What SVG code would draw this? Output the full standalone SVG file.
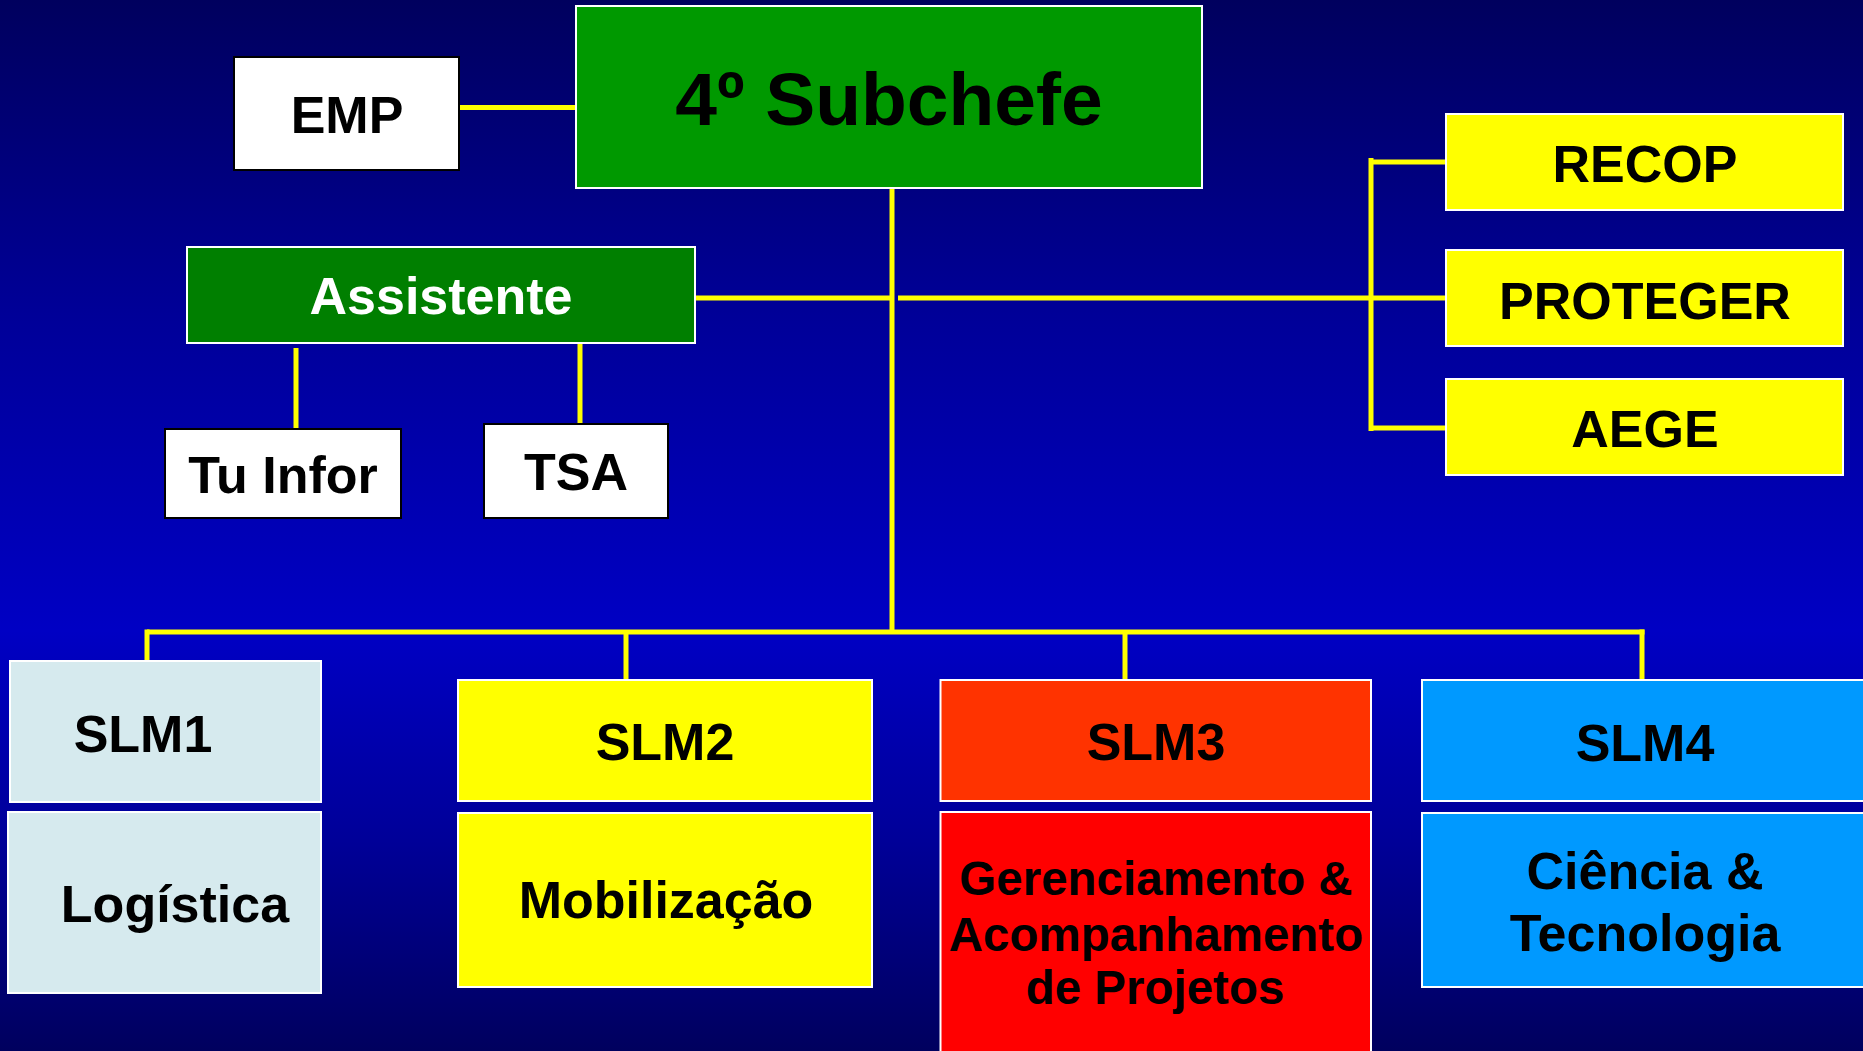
<svg xmlns="http://www.w3.org/2000/svg" width="1863" height="1051" viewBox="0 0 1863 1051">
<defs>
<linearGradient id="bg" x1="0" y1="0" x2="0" y2="1">
<stop offset="0" stop-color="#00005E"/>
<stop offset="0.3" stop-color="#000098"/>
<stop offset="0.6" stop-color="#0000C4"/>
<stop offset="0.8" stop-color="#000098"/>
<stop offset="1" stop-color="#00005E"/>
</linearGradient>
<style>
text{font-family:"Liberation Sans",Arial,sans-serif;font-weight:bold;text-anchor:middle;fill:#000}
.t52{font-size:52px}
.wb{fill:#fff;stroke:#000;stroke-width:2}
.ws{stroke:#fff;stroke-width:2}
.yel{fill:#FFFF00}
.conn line{stroke:#FFFF00;stroke-width:5;stroke-linecap:butt}
</style>
</defs>
<rect x="0" y="0" width="1863" height="1051" fill="url(#bg)"/>
<g id="connectors" class="conn">
<line x1="459" y1="107.5" x2="576" y2="107.5"/>
<line x1="892" y1="188" x2="892" y2="634"/>
<line x1="695" y1="298" x2="890" y2="298"/>
<line x1="898" y1="298" x2="1446" y2="298"/>
<line x1="1371" y1="158" x2="1371" y2="431"/>
<line x1="1371" y1="162" x2="1446" y2="162"/>
<line x1="1371" y1="428" x2="1446" y2="428"/>
<line x1="296" y1="348" x2="296" y2="429"/>
<line x1="580" y1="344" x2="580" y2="424"/>
<line x1="147" y1="632" x2="1644.5" y2="632"/>
<line x1="147" y1="629.5" x2="147" y2="661"/>
<line x1="626" y1="632" x2="626" y2="680"/>
<line x1="1125" y1="632" x2="1125" y2="680"/>
<line x1="1642" y1="629.5" x2="1642" y2="680"/>
</g>
<g id="emp"><rect class="wb" x="234" y="57" width="225" height="113"/><text class="t52" x="347" y="133">EMP</text></g>
<g id="subchefe"><rect class="ws" x="576" y="6" width="626" height="182" fill="#009900"/><text x="889" y="125" font-size="75">4º Subchefe</text></g>
<g id="assistente"><rect class="ws" x="187" y="247" width="508" height="96" fill="#007F00"/><text class="t52" x="441" y="314" style="fill:#fff">Assistente</text></g>
<g id="tuinfor"><rect class="wb" x="165" y="429" width="236" height="89"/><text class="t52" x="283" y="493">Tu Infor</text></g>
<g id="tsa"><rect class="wb" x="484" y="424" width="184" height="94"/><text class="t52" x="576" y="490">TSA</text></g>
<g id="recop"><rect class="ws yel" x="1446" y="114" width="397" height="96"/><text class="t52" x="1645" y="182">RECOP</text></g>
<g id="proteger"><rect class="ws yel" x="1446" y="250" width="397" height="96"/><text class="t52" x="1645" y="319">PROTEGER</text></g>
<g id="aege"><rect class="ws yel" x="1446" y="379" width="397" height="96"/><text class="t52" x="1645" y="447">AEGE</text></g>
<g id="slm1"><rect class="ws" x="10" y="661" width="311" height="141" fill="#D6EAEE"/><text class="t52" x="143" y="752">SLM1</text></g>
<g id="logistica"><rect class="ws" x="8" y="812" width="313" height="181" fill="#D6EAEE"/><text class="t52" x="175" y="922">Logística</text></g>
<g id="slm2"><rect class="ws yel" x="458" y="680" width="414" height="121"/><text class="t52" x="665" y="760">SLM2</text></g>
<g id="mobilizacao"><rect class="ws yel" x="458" y="813" width="414" height="174"/><text class="t52" x="666" y="918">Mobilização</text></g>
<g id="slm3"><rect class="ws" x="940.5" y="680" width="430.5" height="121" fill="#FF3300"/><text class="t52" x="1156" y="760">SLM3</text></g>
<g id="gerenciamento"><rect class="ws" x="940.5" y="812" width="430.5" height="260" fill="#FF0000"/><text x="1156" y="895" font-size="47.5">Gerenciamento &amp;</text><text x="1156" y="951" font-size="47.5">Acompanhamento</text><text x="1155" y="1004" font-size="47.5">de Projetos</text></g>
<g id="slm4"><rect class="ws" x="1422" y="680" width="460" height="121" fill="#0099FF"/><text class="t52" x="1645" y="761">SLM4</text></g>
<g id="ciencia"><rect class="ws" x="1422" y="813" width="460" height="174" fill="#0099FF"/><text class="t52" x="1645" y="889">Ciência &amp;</text><text class="t52" x="1645" y="951">Tecnologia</text></g>
</svg>
